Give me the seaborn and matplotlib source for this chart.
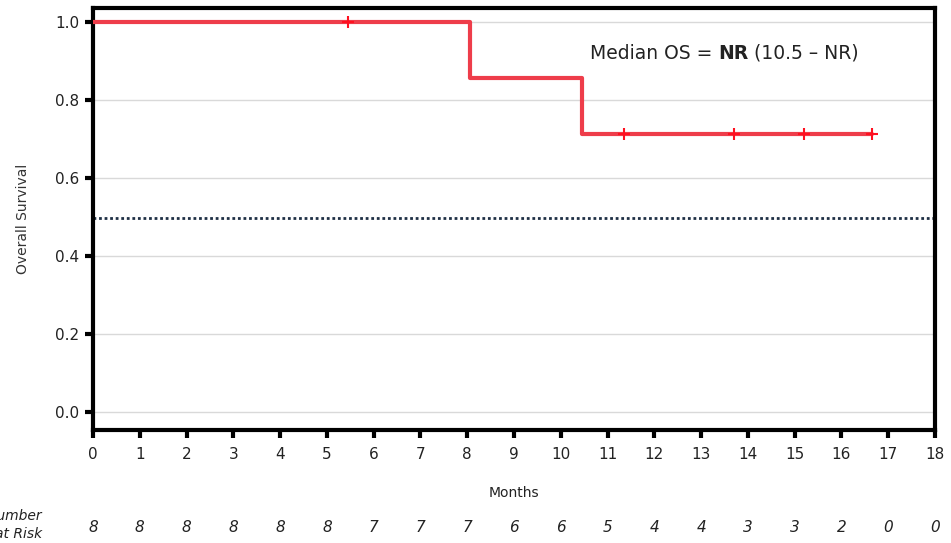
import matplotlib
matplotlib.use("Agg")
import matplotlib.pyplot as plt
import matplotlib.transforms as mtransforms
import seaborn as sns
import pandas as pd

# Data
step_times = [0.0, 8.06, 10.45, 16.65]
step_surv = [1.0, 0.857, 0.714, 0.714]
censor_times = [5.45, 11.35, 13.7, 15.2, 16.65]
censor_surv = [1.0, 0.714, 0.714, 0.714, 0.714]
x_ticks = list(range(0, 19))
y_ticks = [0.0, 0.2, 0.4, 0.6, 0.8, 1.0]
at_risk = [8, 8, 8, 8, 8, 8, 7, 7, 7, 6, 6, 5, 4, 4, 3, 3, 2, 0, 0]

sns.set_theme(style="white")
plt.rcParams['font.family'] = ['DejaVu Sans']

fig = plt.figure(figsize=(9.51, 5.43), dpi=100)
ax = fig.add_axes([0.0978, 0.2081, 0.9832 - 0.0978, 0.9853 - 0.2081])

for yv in y_ticks:
    ax.axhline(yv, color="#d9d9d9", lw=1.0, zorder=0)

ax.axhline(0.497, color="#1f3045", lw=2.0, ls=(0, (1, 1)), zorder=1)

df = pd.DataFrame({"Months": step_times, "Survival": step_surv})
sns.lineplot(data=df, x="Months", y="Survival", estimator=None, drawstyle="steps-post",
             color="#ee3d4a", lw=3.0, ax=ax, zorder=3)
cdf = pd.DataFrame({"Months": censor_times, "Survival": censor_surv})
sns.scatterplot(data=cdf, x="Months", y="Survival", marker="+", s=70, color="#ff1020",
                linewidth=1.5, ax=ax, zorder=4)

ax.set_xlim(0, 18)
ax.set_ylim(-0.046, 1.036)
ax.set_xticks(x_ticks)
ax.set_xticklabels([str(t) for t in x_ticks], fontsize=11, color="#222222")
ax.set_yticks(y_ticks)
ax.set_yticklabels([f"{v:.1f}" for v in y_ticks], fontsize=11, color="#222222")
ax.tick_params(axis="both", direction="out", length=6, width=3, color="black", bottom=True, left=True)
ax.tick_params(axis="x", pad=6)
ax.tick_params(axis="y", pad=4)
for sp in ax.spines.values():
    sp.set_visible(True)
    sp.set_color("black")
    sp.set_linewidth(3)

ax.set_xlabel("")
ax.set_ylabel("Overall Survival", fontsize=10, color="#333333", labelpad=18)
fig.text(514 / 951, 1 - 493 / 543, "Months", ha="center", va="center", fontsize=10, color="#222222")

t1 = ax.text(10.62, 0.92, "Median OS = ", fontsize=13.5, color="#222222", ha="left", va="center")
t2 = ax.annotate("NR", xy=(1, 0.5), xycoords=t1, xytext=(0, 0), textcoords="offset points",
                 fontsize=13.5, fontweight="bold", color="#222222", ha="left", va="center")
ax.annotate(" (10.5 \u2013 NR)", xy=(1, 0.5), xycoords=t2, fontsize=13.5, color="#222222",
            ha="left", va="center")

trans = mtransforms.blended_transform_factory(ax.transData, fig.transFigure)
for xv, n in zip(x_ticks, at_risk):
    ax.text(xv, 1 - 527 / 543, str(n), transform=trans, ha="center", va="center",
            fontsize=11, fontstyle="italic", color="#222222", clip_on=False)
fig.text(42 / 951, 1 - 525 / 543, "Number\nat Risk", ha="right", va="center", fontsize=10,
         fontstyle="italic", color="#222222", linespacing=1.3)

fig.savefig("out.png", dpi=100)
